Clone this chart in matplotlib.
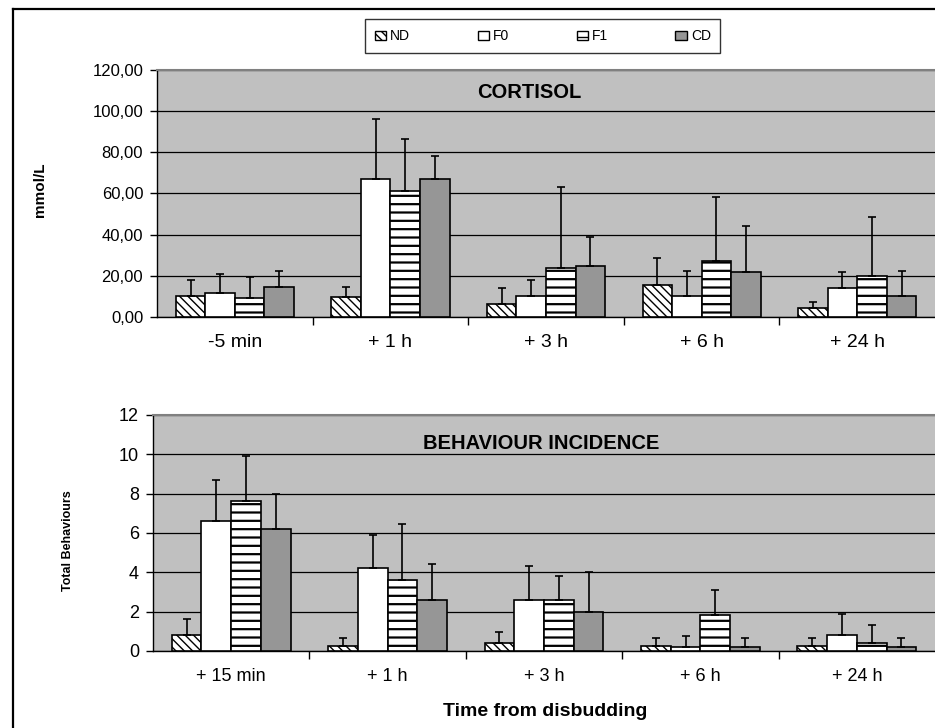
import numpy as np
import matplotlib
matplotlib.use("Agg")
import matplotlib.pyplot as plt
from matplotlib.patches import Patch
from matplotlib.lines import Line2D
from matplotlib.ticker import FuncFormatter

plt.rcParams['font.family'] = ['Liberation Sans', 'DejaVu Sans']

groups = ['ND', 'F0', 'F1', 'CD']

# cortisol (mmol/L), mean and upper error limit
cort_times = ['-5 min', '+ 1 h', '+ 3 h', '+ 6 h', '+ 24 h']
cort_mean = {
    'ND': [10.4, 9.9, 6.3, 15.5, 4.4],
    'F0': [11.6, 67.0, 10.4, 10.2, 13.9],
    'F1': [9.2, 61.2, 23.9, 27.0, 19.7],
    'CD': [14.6, 67.0, 24.8, 22.0, 10.2],
}
cort_top = {
    'ND': [17.8, 14.4, 13.9, 28.8, 7.1],
    'F0': [20.7, 96.3, 18.0, 22.5, 21.7],
    'F1': [19.4, 86.6, 63.1, 58.3, 48.5],
    'CD': [22.5, 78.2, 38.8, 44.2, 22.5],
}

# behaviours, mean and upper error limit
beh_times = ['+ 15 min', '+ 1 h', '+ 3 h', '+ 6 h', '+ 24 h']
beh_mean = {
    'ND': [0.8, 0.25, 0.4, 0.25, 0.25],
    'F0': [6.6, 4.2, 2.6, 0.2, 0.8],
    'F1': [7.6, 3.6, 2.6, 1.85, 0.4],
    'CD': [6.2, 2.6, 2.0, 0.2, 0.2],
}
beh_top = {
    'ND': [1.65, 0.65, 0.95, 0.65, 0.65],
    'F0': [8.7, 5.9, 4.3, 0.75, 1.9],
    'F1': [9.9, 6.45, 3.8, 3.1, 1.3],
    'CD': [8.0, 4.4, 4.0, 0.65, 0.65],
}

styles = {
    'ND': dict(color='white', hatch='\\\\\\\\', hlw=1.0),
    'F0': dict(color='white', hatch='', hlw=1.0),
    'F1': dict(color='white', hatch='--', hlw=1.6),
    'CD': dict(color='#969696', hatch='', hlw=1.0),
}

fig = plt.figure(figsize=(9.35, 7.28), dpi=100)
ax1 = fig.add_axes([0.168, 0.5646, 0.832, 0.3393])
ax2 = fig.add_axes([0.1636, 0.1058, 0.8364, 0.3242])

w = 0.19


def draw(ax, times, mean, top, ymax, step, fmt, title, tx, ty, lab_size, ylab_size, pad):
    x = np.arange(len(times)) + 0.5
    for i, g in enumerate(groups):
        plt.rcParams['hatch.linewidth'] = styles[g]['hlw']
        pos = x + (i - 1.5) * w
        m = np.array(mean[g])
        up = np.array(top[g]) - m
        ax.bar(pos, m, w, facecolor=styles[g]['color'], hatch=styles[g]['hatch'],
               edgecolor='black', linewidth=1.2, zorder=3)
        ax.errorbar(pos, m, yerr=[np.zeros_like(m), up], fmt='none',
                    ecolor='black', elinewidth=1.2, capsize=3, capthick=1.2, zorder=4)
    ax.set_facecolor('#c0c0c0')
    ax.set_xlim(0, len(times))
    ax.set_ylim(0, ymax)
    ax.set_yticks(np.arange(0, ymax + step / 2, step))
    ax.yaxis.set_major_formatter(FuncFormatter(fmt))
    ax.grid(axis='y', color='black', linewidth=0.9, zorder=1)
    ax.set_xticks(np.arange(1, len(times)))
    ax.set_xticklabels([])
    ax.set_xticks(x, minor=True)
    ax.set_xticklabels(times, minor=True, fontsize=lab_size)
    ax.tick_params(axis='x', which='major', direction='out', length=6, width=1)
    ax.tick_params(axis='x', which='minor', length=0, pad=pad)
    ax.tick_params(axis='y', direction='out', length=5, width=1, labelsize=ylab_size, pad=5)
    ax.spines['right'].set_visible(False)
    ax.spines['top'].set_color('#808080')
    ax.spines['top'].set_linewidth(1.5)
    ax.spines['left'].set_linewidth(1)
    ax.spines['bottom'].set_linewidth(1)
    ax.text(tx, ty, title, transform=ax.transAxes, ha='center', va='center',
            fontsize=14.5, fontweight='bold', zorder=5)


draw(ax1, cort_times, cort_mean, cort_top, 120, 20,
     lambda v, p: f'{v:.2f}'.replace('.', ','), 'CORTISOL', 0.478, 0.907, 14, 12, 12.5)
draw(ax2, beh_times, beh_mean, beh_top, 12, 2,
     lambda v, p: f'{v:.0f}', 'BEHAVIOUR INCIDENCE', 0.497, 0.881, 13, 13, 12.5)

fig.text(0.043, 0.739, 'mmol/L', rotation=90, ha='center', va='center',
         fontsize=11, fontweight='bold')
fig.text(0.073, 0.258, 'Total Behaviours', rotation=90, ha='center', va='center',
         fontsize=9, fontweight='bold')
fig.text(0.583, 0.023, 'Time from disbudding', ha='center', va='center',
         fontsize=14, fontweight='bold')

legend_handles = []
for g in groups:
    plt.rcParams['hatch.linewidth'] = styles[g]['hlw']
    legend_handles.append(Patch(facecolor=styles[g]['color'], hatch=styles[g]['hatch'],
                                edgecolor='black', label=g))
leg = fig.legend(handles=legend_handles, ncol=4, loc='center', mode='expand',
                 bbox_to_anchor=(0.383, 0.924, 0.395, 0.053), fontsize=10,
                 handlelength=0.8, handleheight=0.6, handletextpad=0.3,
                 fancybox=False, borderpad=0.7, columnspacing=1.5)
leg.get_frame().set_edgecolor('black')
leg.get_frame().set_linewidth(1)

# outer frame
fig.add_artist(Line2D([0.0134, 0.0134], [0.0, 0.9883], color='black', linewidth=1.6,
                      transform=fig.transFigure))
fig.add_artist(Line2D([0.0134, 1.0], [0.9883, 0.9883], color='black', linewidth=1.6,
                      transform=fig.transFigure))

fig.savefig('out.png', dpi=100)
